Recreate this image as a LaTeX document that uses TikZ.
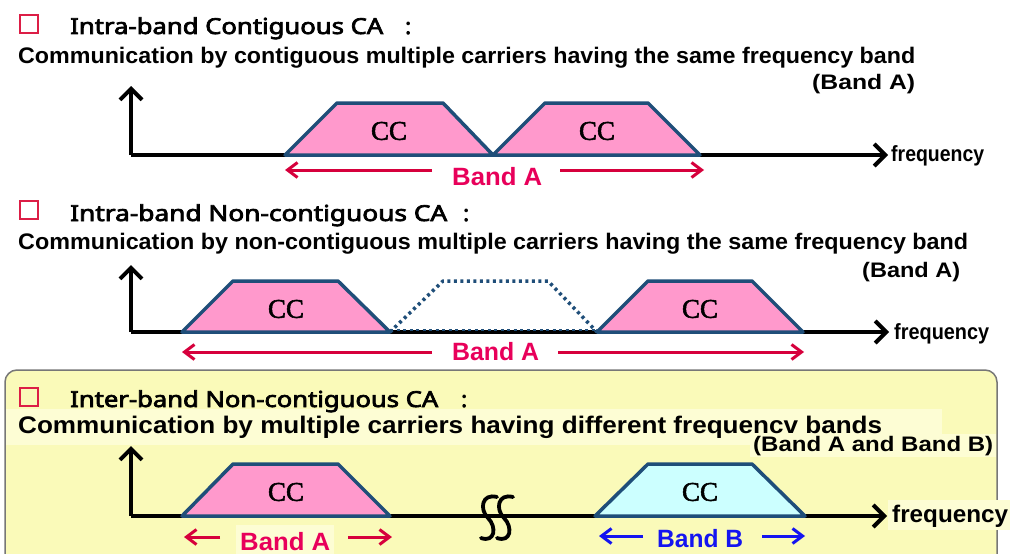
\documentclass[tikz,border=0pt]{standalone}
\usepackage{fontspec}
\setmainfont{Liberation Sans}
\newfontfamily\ttlfont[FakeBold=3]{Noto Sans}
\newfontfamily\ccfont[FakeBold=2]{Liberation Serif}
\usetikzlibrary{arrows.meta}
\definecolor{sqred}{HTML}{DC1E46}
\definecolor{ccpink}{HTML}{FF99CC}
\definecolor{ccblue}{HTML}{1F4E79}
\definecolor{cccyan}{HTML}{CCFFFF}
\definecolor{arrred}{HTML}{D6003C}
\definecolor{bandAcol}{HTML}{E8005A}
\definecolor{bandBcol}{HTML}{1414F0}
\definecolor{boxyellow}{HTML}{FAFAB9}
\definecolor{boxlight}{HTML}{FDFDD4}
\definecolor{boxgray}{HTML}{777777}
\newcommand{\fw}[2]{\resizebox{#1}{\height}{#2}}
\begin{document}
\begin{tikzpicture}[x=1pt,y=-1pt,
  ttl/.style={anchor=base west, inner sep=0, font=\ttlfont\fontsize{22}{24}\selectfont},
  body/.style={anchor=base west, inner sep=0, font=\bfseries\fontsize{22.5}{26}\selectfont},
  freq/.style={anchor=base west, inner sep=0, font=\bfseries\fontsize{22}{24}\selectfont},
  sqbox/.style={draw=sqred, line width=2pt, minimum size=18pt, inner sep=0},
  trap/.style={draw=ccblue, line width=3.5pt, line join=round},
  cctext/.style={inner sep=0, font=\ccfont\fontsize{27}{30}\selectfont},
  axis/.style={line width=4pt, -{Straight Barb[length=11pt,width=22pt]}},
  bandarr/.style={draw=arrred, line width=3pt, -{Straight Barb[length=10pt,width=15pt]}},
  bandtxt/.style={anchor=base west, inner sep=0, font=\bfseries\fontsize{25}{28}\selectfont},
  lightbg/.style={fill=boxlight}
]
\useasboundingbox (0,0) rectangle (1012,554);
\fill[white] (0,0) rectangle (1012,554);

% ---------- Section 3 background box ----------
\draw[fill=boxyellow, draw=boxgray, line width=1.5pt, rounded corners=12pt] (5,370) rectangle (997,580);
\fill[lightbg] (6,409) rectangle (942,445);
\fill[lightbg] (750,434) rectangle (996,457);
\fill[lightbg] (888,500) rectangle (1010,530);
\fill[lightbg] (236,525) rectangle (334,554);

% ---------- Section 1 ----------
\node[sqbox] (sq1) at (29,23.5) {};
\node[ttl] (t1) at (70,34) {\fw{313pt}{Intra-band Contiguous CA}};
\node[ttl] (c1) at (405,34) {:};
\node[body] (l1) at (18,63) {\fw{897pt}{Communication by contiguous multiple carriers having the same frequency band}};
\node[body, font=\bfseries\fontsize{21}{24}\selectfont] (b1) at (812,89) {\fw{103pt}{(Band A)}};

\coordinate (o1) at (131,155);
\coordinate (y1) at (131,86);
\coordinate (x1) at (888,155);
\draw[axis] (o1) -- (y1);
\draw[axis] (o1) -- (x1);
\node[freq] (f1) at (891,161) {\fw{93pt}{frequency}};

\draw[trap, fill=ccpink] (285,155) -- (337,103) -- (443,103) -- (493,155) -- cycle;
\draw[trap, fill=ccpink] (493,155) -- (545,103) -- (648,103) -- (700,155) -- cycle;
\node[cctext] (cc1a) at (389,131) {CC};
\node[cctext] (cc1b) at (597,131) {CC};

\node[bandtxt, text=bandAcol] (ba1) at (452,185) {\fw{90pt}{Band A}};
\coordinate (ba1l) at (285,170);
\coordinate (ba1r) at (704,170);
\draw[bandarr] (ba1.west |- ba1l) ++(-20,0) -- (ba1l);
\draw[bandarr] (ba1.east |- ba1r) ++(18,0) -- (ba1r);

% ---------- Section 2 ----------
\node[sqbox] (sq2) at (29,210) {};
\node[ttl] (t2) at (70,221) {\fw{377pt}{Intra-band Non-contiguous CA}};
\node[ttl] (c2) at (463,221) {:};
\node[body] (l2) at (18,249) {\fw{950pt}{Communication by non-contiguous multiple carriers having the same frequency band}};
\node[body, font=\bfseries\fontsize{21}{24}\selectfont] (b2) at (862,277) {\fw{98pt}{(Band A)}};

\coordinate (o2) at (131,332);
\coordinate (y2) at (131,265);
\coordinate (x2) at (889,332);
\draw[axis] (o2) -- (y2);
\draw[axis] (o2) -- (x2);
\node[freq] (f2) at (894,339) {\fw{95pt}{frequency}};

\draw[trap, fill=ccpink] (182,332) -- (233,281) -- (338,281) -- (390,332) -- cycle;
\draw[trap, dash pattern=on 3pt off 3.5pt] (390,332) -- (443,281) -- (548,281) -- (597,332);
\draw[draw=ccblue, line width=2pt, dash pattern=on 3pt off 3.5pt] (390,329.5) -- (597,329.5);
\draw[trap, fill=ccpink] (597,332) -- (648,281) -- (752,281) -- (803,332) -- cycle;
\node[cctext] (cc2a) at (286,309) {CC};
\node[cctext] (cc2b) at (700,309) {CC};

\node[bandtxt, text=bandAcol] (ba2) at (452,360) {\fw{87pt}{Band A}};
\coordinate (ba2l) at (182,352);
\coordinate (ba2r) at (804,352);
\draw[bandarr] (ba2.west |- ba2l) ++(-20,0) -- (ba2l);
\draw[bandarr] (ba2.east |- ba2r) ++(19,0) -- (ba2r);

% ---------- Section 3 ----------
\node[sqbox] (sq3) at (29,397) {};
\node[ttl] (t3) at (70,407) {\fw{368pt}{Inter-band Non-contiguous CA}};
\node[ttl] (c3) at (461,407) {:};
\node[body, font=\bfseries\fontsize{24}{28}\selectfont] (l3) at (18,433) {\fw{864pt}{Communication by multiple carriers having different frequencv bands}};
\node[body, font=\bfseries\fontsize{21}{24}\selectfont] (b3) at (753,451) {\fw{240pt}{(Band A and Band B)}};

\coordinate (o3) at (131,516);
\coordinate (y3) at (131,446);
\coordinate (x3) at (887,516);
\draw[axis] (o3) -- (y3);
\draw[axis] (o3) -- (x3);
\node[freq, font=\bfseries\fontsize{24}{26}\selectfont] (f3) at (892,522) {\fw{116pt}{frequency}};

% break symbol
\foreach \bx in {487,503}{
  \draw[line width=3.8pt, line cap=round] (\bx+10,497) .. controls (\bx-5,493) and (\bx-8,509) .. (\bx+1,518)
     .. controls (\bx+10,527) and (\bx+8,543) .. (\bx-6,538);
}

\draw[trap, fill=ccpink] (182,516) -- (233,464) -- (338,464) -- (390,516) -- cycle;
\draw[trap, fill=cccyan] (595,516) -- (648,464) -- (752,464) -- (805,516) -- cycle;
\node[cctext] (cc3a) at (286,492) {CC};
\node[cctext] (cc3b) at (700,492) {CC};

\node[bandtxt, text=bandAcol] (ba3) at (240,550) {\fw{90pt}{Band A}};
\coordinate (ba3l) at (184,537);
\coordinate (ba3r) at (392,537);
\draw[bandarr] (ba3.west |- ba3l) ++(-20,0) -- (ba3l);
\draw[bandarr] (ba3.east |- ba3r) ++(18,0) -- (ba3r);

\node[bandtxt, text=bandBcol] (bb3) at (657,547) {\fw{86pt}{Band B}};
\coordinate (bb3l) at (599,536);
\coordinate (bb3r) at (805,536);
\draw[bandarr, draw=bandBcol] (bb3.west |- bb3l) ++(-14,0) -- (bb3l);
\draw[bandarr, draw=bandBcol] (bb3.east |- bb3r) ++(19,0) -- (bb3r);
\end{tikzpicture}
\end{document}
